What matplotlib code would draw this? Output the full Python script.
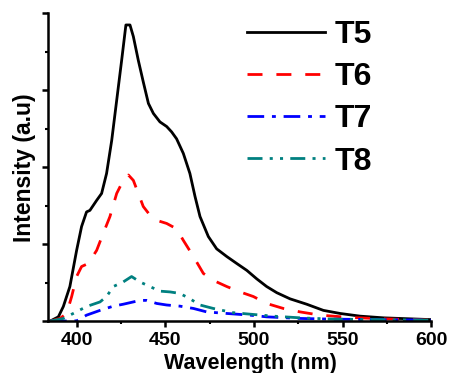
import numpy as np
import matplotlib
matplotlib.use("Agg")
import matplotlib.pyplot as plt
from matplotlib.ticker import MultipleLocator

# emission spectra (wavelength nm, intensity a.u.)
t5_x = [385, 389.7, 392.5, 396.2, 400, 402.8, 405.6, 407.5, 411.3, 414.1, 416.9, 419.8,
        422.6, 425.4, 427.8, 430.1, 432, 434.8, 437.6, 440.5, 443.3, 447, 450.8, 453.6,
        456.4, 460.2, 463.9, 466.8, 469.6, 474.3, 479, 484.7, 490.3, 496, 501.6, 507.2,
        512.9, 520.4, 529.8, 539.2, 548.6, 559.9, 573.1, 600]
t5_y = [0, 0.056, 0.19, 0.45, 0.92, 1.23, 1.42, 1.44, 1.57, 1.66, 1.92, 2.35,
        2.87, 3.39, 3.85, 3.85, 3.70, 3.39, 3.11, 2.83, 2.70, 2.59, 2.53, 2.46,
        2.37, 2.18, 1.92, 1.62, 1.36, 1.10, 0.94, 0.84, 0.75, 0.66, 0.55, 0.45,
        0.37, 0.29, 0.22, 0.14, 0.10, 0.065, 0.043, 0.02]

t6_x = [385, 390.6, 394.4, 397.2, 400, 402.8, 406.6, 411.3, 415, 418.8, 422.6, 426.3,
        429.2, 432, 434.8, 437.6, 441.3, 445.2, 450.8, 456.4, 460.2, 465.9, 471.5, 477.1,
        484.7, 492.2, 499.7, 507.2, 516.6, 526.1, 537.4, 554.3, 573.1, 600]
t6_y = [0, 0.035, 0.10, 0.32, 0.58, 0.71, 0.75, 0.92, 1.14, 1.36, 1.66, 1.83,
        1.90, 1.83, 1.66, 1.49, 1.38, 1.31, 1.27, 1.20, 1.05, 0.84, 0.62, 0.53,
        0.45, 0.38, 0.32, 0.23, 0.165, 0.12, 0.078, 0.048, 0.03, 0.013]

t7_x = [385, 400, 405.6, 413.2, 420.7, 426.3, 432, 435.7, 439.5, 445.2, 450.8, 458.3,
        465.9, 473.4, 484.7, 497.8, 507.2, 526.1, 544.9, 600]
t7_y = [0, 0.004, 0.078, 0.14, 0.195, 0.22, 0.25, 0.27, 0.27, 0.23, 0.21, 0.195,
        0.165, 0.12, 0.10, 0.078, 0.056, 0.035, 0.026, 0.013]

t8_x = [385, 392.5, 398.1, 405.6, 413.2, 416.9, 420.7, 426.3, 431, 435.7, 441.3, 447,
        452.7, 458.3, 464, 469.6, 477.1, 488.4, 499.7, 511, 526.1, 544.9, 600]
t8_y = [0, 0.035, 0.10, 0.19, 0.25, 0.32, 0.45, 0.51, 0.58, 0.51, 0.45, 0.39,
        0.38, 0.36, 0.29, 0.21, 0.165, 0.11, 0.087, 0.065, 0.043, 0.026, 0.013]

labels = ["T5", "T6", "T7", "T8"]

plt.rcParams['font.family'] = ['Liberation Sans', 'DejaVu Sans']
plt.rcParams['font.weight'] = 'bold'

fig = plt.figure(figsize=(4.51, 3.73), dpi=100)
ax = fig.add_axes([0.107, 0.139, 0.849, 0.825])

lw = 2.0
ax.plot(t5_x, t5_y, color="black", lw=lw, label=labels[0])
ax.plot(t6_x, t6_y, color="#ff0000", lw=lw, ls=(0, (5.4, 5)), label=labels[1])
ax.plot(t7_x, t7_y, color="#0000ff", lw=lw, ls=(0, (6, 2.8, 1.4, 2.8)), label=labels[2])
ax.plot(t8_x, t8_y, color="#008080", lw=lw, ls=(0, (5.4, 2.6, 1.1, 2.6, 1.1, 2.6)), label=labels[3])

ax.set_xlim(384, 600)
ax.set_ylim(0, 4)
ax.xaxis.set_major_locator(MultipleLocator(50))
ax.xaxis.set_minor_locator(MultipleLocator(25))
ax.yaxis.set_major_locator(MultipleLocator(1))
ax.yaxis.set_minor_locator(MultipleLocator(0.5))
ax.set_yticklabels([])

for s in ["top", "right"]:
    ax.spines[s].set_visible(False)
for s in ["left", "bottom"]:
    ax.spines[s].set_linewidth(1.8)

ax.tick_params(which="major", direction="out", length=4, width=1.8, labelsize=14)
ax.tick_params(which="minor", direction="out", length=2.5, width=1.5)
ax.tick_params(axis="x", pad=4)

ax.set_xlabel("Wavelength (nm)", fontsize=15.5, fontweight="bold")
ax.xaxis.set_label_coords(0.527, -0.104)
ax.set_ylabel("Intensity (a.u)", fontsize=16.5, fontweight="bold", labelpad=1)

leg = ax.legend(loc="upper right", bbox_to_anchor=(0.847, 0.978), frameon=False,
                fontsize=23, handlelength=2.45, handletextpad=0.3, labelspacing=0.38,
                borderpad=0.0, borderaxespad=0.0)
for t in leg.get_texts():
    t.set_fontweight("bold")

fig.savefig("out.png", dpi=100)
